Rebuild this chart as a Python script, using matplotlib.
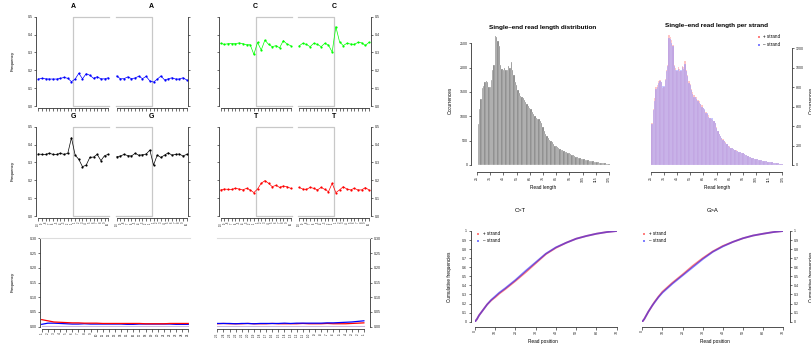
import numpy as np
import matplotlib
matplotlib.use('Agg')
import matplotlib.pyplot as plt

plt.rcParams['font.family'] = ['Liberation Sans', 'DejaVu Sans']

## base composition around read ends (index 1..20 = -10..-1, 1..10)
left_lab = [str(i) for i in range(-10, 0)] + [str(i) for i in range(1, 11)]
right_lab = left_lab

A_5p = [0.151,0.155,0.152,0.151,0.151,0.151,0.155,0.160,0.155,0.136, 0.151,0.183,0.152,0.181,0.172,0.155,0.164,0.152,0.152,0.158]
A_3p = [0.168,0.152,0.153,0.163,0.153,0.157,0.167,0.153,0.166,0.140, 0.134,0.150,0.168,0.146,0.152,0.158,0.151,0.151,0.158,0.146]
C_5p = [0.351,0.345,0.349,0.349,0.349,0.353,0.349,0.343,0.343,0.289, 0.356,0.313,0.369,0.345,0.332,0.338,0.326,0.366,0.347,0.338]
C_3p = [0.336,0.351,0.345,0.332,0.351,0.345,0.332,0.351,0.341,0.302, 0.444,0.360,0.338,0.351,0.347,0.345,0.356,0.354,0.339,0.356]
G_5p = [0.347,0.345,0.345,0.351,0.345,0.345,0.351,0.345,0.351,0.438, 0.341,0.317,0.276,0.285,0.328,0.330,0.345,0.310,0.338,0.345]
G_3p = [0.332,0.336,0.345,0.338,0.336,0.351,0.340,0.343,0.347,0.369, 0.285,0.341,0.328,0.341,0.354,0.341,0.345,0.347,0.336,0.345]
T_5p = [0.146,0.151,0.149,0.149,0.155,0.151,0.146,0.155,0.146,0.131, 0.151,0.183,0.198,0.183,0.164,0.172,0.160,0.168,0.164,0.155]
T_3p = [0.160,0.151,0.149,0.160,0.155,0.146,0.160,0.149,0.136,0.183, 0.131,0.146,0.164,0.151,0.146,0.155,0.146,0.146,0.159,0.146]

## misincorporation frequencies
pos5 = list(range(1, 26))
pos3 = list(range(-25, 0))
CT_5p = [0.024,0.020,0.016,0.015,0.014,0.013,0.013,0.012,0.012,0.012,0.011,0.011,0.011,0.011,0.011,0.011,0.011,0.010,0.010,0.010,0.010,0.011,0.011,0.011,0.011]
GA_5p = [0.008,0.012,0.012,0.011,0.010,0.009,0.009,0.010,0.009,0.009,0.009,0.009,0.009,0.009,0.008,0.008,0.009,0.009,0.009,0.009,0.009,0.009,0.008,0.008,0.008]
oth_5p = [0.004,0.004,0.004,0.004,0.004,0.004,0.004,0.004,0.004,0.004,0.004,0.004,0.004,0.004,0.004,0.004,0.004,0.004,0.004,0.004,0.004,0.004,0.004,0.004,0.004]
CT_3p = [0.010,0.011,0.010,0.010,0.010,0.011,0.010,0.010,0.010,0.011,0.010,0.010,0.010,0.010,0.011,0.010,0.010,0.010,0.011,0.010,0.010,0.010,0.011,0.012,0.013]
GA_3p = [0.011,0.011,0.011,0.010,0.011,0.011,0.010,0.011,0.011,0.011,0.011,0.012,0.011,0.012,0.012,0.012,0.012,0.012,0.013,0.013,0.014,0.015,0.016,0.018,0.020]
oth_3p = [0.004,0.004,0.004,0.004,0.004,0.004,0.004,0.004,0.004,0.004,0.004,0.004,0.004,0.004,0.004,0.004,0.004,0.004,0.004,0.004,0.004,0.004,0.004,0.004,0.004]

## read lengths
lengths = list(range(26, 126))
plus = [430,580,690,800,820,860,870,850,790,800,880,980,1030,1340,1320,1290,1230,1030,1000,970,
        1010,990,970,1020,1010,1070,980,930,860,830,780,750,720,700,700,670,660,630,620,590,
        570,550,520,510,480,470,460,450,430,390,350,320,300,280,265,245,240,220,200,195,
        180,170,160,150,155,145,135,130,125,120,110,105,100,90,85,80,75,70,65,60,
        58,55,50,48,45,43,40,38,35,33,30,28,25,23,20,19,18,15,14,13]
minus = [420,570,660,780,800,840,860,850,810,810,870,970,1020,1310,1300,1260,1220,1020,980,980,
         990,970,980,1010,990,1040,970,920,840,820,770,730,700,700,680,660,640,630,600,590,
         580,530,530,490,480,480,480,450,430,380,350,320,300,280,255,245,230,220,200,185,
         180,170,160,150,145,145,135,130,125,120,110,105,100,90,85,80,75,70,65,60,
         57,55,50,47,45,42,40,37,35,32,30,27,25,22,20,19,17,15,14,12]
total = np.array(plus) + np.array(minus)
len_ticks = list(range(25, 126, 10))

## cumulative substitution frequencies
cum_pos = [0,1,2,3,4,5,6,8,10,12,15,20,25,30,35,40,45,50,55,60,65,70]
CT_plus = [0,0.03,0.07,0.10,0.13,0.16,0.19,0.235,0.27,0.31,0.36,0.45,0.545,0.645,0.745,0.815,0.87,0.915,0.945,0.97,0.988,1.0]
CT_minus = [0,0.03,0.07,0.10,0.13,0.16,0.19,0.24,0.28,0.32,0.37,0.46,0.56,0.655,0.75,0.82,0.87,0.915,0.945,0.97,0.988,1.0]
GA_plus = [0,0.03,0.07,0.11,0.145,0.18,0.215,0.275,0.33,0.37,0.43,0.52,0.615,0.70,0.775,0.835,0.88,0.92,0.95,0.97,0.988,1.0]
GA_minus = [0,0.03,0.07,0.11,0.145,0.18,0.21,0.27,0.32,0.36,0.42,0.51,0.60,0.69,0.77,0.83,0.88,0.92,0.95,0.97,0.988,1.0]
cum_ticks = [0,10,20,30,40,50,60,70]

W, H = 812, 345
fig = plt.figure(figsize=(W/100, H/100), dpi=100)

AXC = '#333333'

def box(x0, top, w, h):
    # pixel box, measured from the top
    ax = fig.add_axes([x0/W, (H-top-h)/H, w/W, h/H])
    for s in ax.spines.values():
        s.set_visible(False)
    ax.set_xticks([])
    ax.set_yticks([])
    ax.patch.set_alpha(0)
    return ax

def yaxis(ax, side, ticks, labels, off=0, fs=2.6):
    sp = ax.spines[side]
    sp.set_visible(True)
    sp.set_bounds(ticks[0], ticks[-1])
    sp.set_position(('outward', off))
    sp.set_linewidth(0.6)
    sp.set_color(AXC)
    if side == 'right':
        ax.yaxis.tick_right()
    ax.set_yticks(ticks)
    ax.set_yticklabels(labels if labels else ['']*len(ticks))
    ax.tick_params(axis='y', length=1.6, width=0.5, labelsize=fs, pad=1, color=AXC, labelcolor='#222222')

def xaxis(ax, ticks, labels, off=0, fs=2.2, rot=90):
    sp = ax.spines['bottom']
    sp.set_visible(True)
    sp.set_bounds(ticks[0], ticks[-1])
    sp.set_position(('outward', off))
    sp.set_linewidth(0.6)
    sp.set_color(AXC)
    ax.set_xticks(ticks)
    ax.set_xticklabels(labels if labels else ['']*len(ticks), rotation=rot)
    ax.tick_params(axis='x', length=1.8, width=0.5, labelsize=fs, pad=1, color=AXC, labelcolor='#222222')

idx = list(range(1, 21))
freq_ticks = [0, 0.1, 0.2, 0.3, 0.4, 0.5]
freq_lab = ['0.0', '0.1', '0.2', '0.3', '0.4', '0.5']

def base_half(x0, top, vals, color, five, ylab, xlab, title):
    ax = box(x0, top, 73.6, 89.3)
    ax.set_xlim(0.5, 20.5)
    ax.set_ylim(0, 0.5)
    # grey frame around the positions inside the read
    if five:
        ax.plot([20.3, 10.5, 10.5, 20.3], [0.5, 0.5, 0, 0], color='#c8c8c8', lw=0.9, clip_on=False)
        yaxis(ax, 'left', freq_ticks, freq_lab if ylab else None)
    else:
        ax.plot([0.7, 10.5, 10.5, 0.7], [0.5, 0.5, 0, 0], color='#c8c8c8', lw=0.9, clip_on=False)
        yaxis(ax, 'right', freq_ticks, freq_lab if ylab else None)
    ax.plot(idx, vals, color=color, lw=0.5, marker='o', ms=1.6, mec=color, mew=0, clip_on=False)
    xaxis(ax, idx, left_lab if xlab else None, off=1.5, fs=1.9)
    ax.text(10.5, 0.535, title, ha='center', va='bottom', fontsize=5, fontweight='bold')
    return ax

# row 1: A, C
base_half(36.5, 16.7, A_5p, '#0000ff', True, True, False, 'A')
base_half(114.9, 16.7, A_3p, '#0000ff', False, False, False, 'A')
base_half(218.9, 16.7, C_5p, '#00ff00', True, False, False, 'C')
base_half(297.2, 16.7, C_3p, '#00ff00', False, True, False, 'C')
# row 2: G, T
base_half(36.5, 126.7, G_5p, '#000000', True, True, True, 'G')
base_half(114.9, 126.7, G_3p, '#000000', False, False, True, 'G')
base_half(218.9, 126.7, T_5p, '#ff0000', True, False, True, 'T')
base_half(297.2, 126.7, T_3p, '#ff0000', False, True, True, 'T')

# row 3: misincorporations
mis_ticks = [0, 0.05, 0.10, 0.15, 0.20, 0.25, 0.30]
mis_lab = ['0.00', '0.05', '0.10', '0.15', '0.20', '0.25', '0.30']

ax = box(40, 238.3, 150, 88.4)
ax.set_xlim(0.72, 25.28)
ax.set_ylim(0, 0.30)
ax.spines['top'].set_visible(True)
ax.spines['top'].set_color('#dddddd')
ax.spines['top'].set_linewidth(0.8)
ax.plot(pos5, oth_5p, color='#c9b8e0', lw=0.8)
ax.plot(pos5, GA_5p, color='#0000ff', lw=0.9)
ax.plot(pos5, CT_5p, color='#ff0000', lw=0.9)
yaxis(ax, 'left', mis_ticks, mis_lab)
xaxis(ax, pos5, [str(p) for p in pos5], off=1.5, fs=2.2)

ax = box(216.7, 238.3, 153.3, 88.4)
ax.set_xlim(-25.1, 0.0)
ax.set_ylim(0, 0.30)
ax.spines['top'].set_visible(True)
ax.spines['top'].set_color('#dddddd')
ax.spines['top'].set_linewidth(0.8)
ax.plot(pos3, oth_3p, color='#c9b8e0', lw=0.8)
ax.plot(pos3, CT_3p, color='#ff0000', lw=0.9)
ax.plot(pos3, GA_3p, color='#0000ff', lw=0.9)
yaxis(ax, 'right', mis_ticks, mis_lab)
xaxis(ax, pos3, [str(p) for p in pos3], off=1.5, fs=2.2)

# read length histograms
ax = box(477, 33.5, 133.3, 131.5)
ax.set_xlim(25, 126)
ax.set_ylim(0, 2700)
ax.bar(lengths, total, width=1.0, color='#7f7f7f', edgecolor='white', linewidth=0.2)
yaxis(ax, 'left', [0, 500, 1000, 1500, 2000, 2500], ['0', '500', '1000', '1500', '2000', '2500'], off=4, fs=2.6)
xaxis(ax, len_ticks, [str(t) for t in len_ticks], off=5, fs=2.6)

ax = box(650.7, 33.8, 133, 131.2)
ax.set_xlim(25, 126)
ax.set_ylim(0, 1350)
ax.bar(lengths, plus, width=1.0, color='#ff8080', alpha=0.5, edgecolor='white', linewidth=0.15)
ax.bar(lengths, minus, width=1.0, color='#8080ff', alpha=0.5, edgecolor='white', linewidth=0.15)
yaxis(ax, 'right', [0, 200, 400, 600, 800, 1000, 1200], ['0', '200', '400', '600', '800', '1000', '1200'], off=6, fs=2.6)
xaxis(ax, len_ticks, [str(t) for t in len_ticks], off=5, fs=2.6)

# cumulative C>T and G>A
cum_y = [0, 0.1, 0.2, 0.3, 0.4, 0.5, 0.6, 0.7, 0.8, 0.9, 1]
cum_lab = ['0', '0.1', '0.2', '0.3', '0.4', '0.5', '0.6', '0.7', '0.8', '0.9', '1']

ax = box(475, 231, 141.7, 90.7)
ax.set_xlim(0, 70)
ax.set_ylim(0, 1)
ax.plot(cum_pos, CT_plus, color='#ff0000', alpha=0.5, lw=1.3)
ax.plot(cum_pos, CT_minus, color='#0000ff', alpha=0.5, lw=1.3)
yaxis(ax, 'left', cum_y, cum_lab, off=3, fs=2.6)
xaxis(ax, cum_ticks, [str(t) for t in cum_ticks], off=3.5, fs=2.6)

ax = box(642.3, 231, 141, 90.7)
ax.set_xlim(0, 70)
ax.set_ylim(0, 1)
ax.plot(cum_pos, GA_plus, color='#ff0000', alpha=0.5, lw=1.3)
ax.plot(cum_pos, GA_minus, color='#0000ff', alpha=0.5, lw=1.3)
yaxis(ax, 'right', cum_y, cum_lab, off=5, fs=2.6)
xaxis(ax, cum_ticks, [str(t) for t in cum_ticks], off=3.5, fs=2.6)

# texts and legends in pixel coordinates
ov = fig.add_axes([0, 0, 1, 1])
ov.set_xlim(0, W)
ov.set_ylim(H, 0)
ov.axis('off')
ov.patch.set_alpha(0)

for yc in [61, 171, 282]:
    ov.text(13, yc, 'Frequency', rotation=90, ha='center', va='center', fontsize=3.2)

ov.text(543, 27, 'Single\u2013end read length distribution', ha='center', va='center', fontsize=4.6, fontweight='bold')
ov.text(717, 25, 'Single\u2013end read length per strand', ha='center', va='center', fontsize=4.6, fontweight='bold')
ov.text(450, 100, 'Occurrences', rotation=90, ha='center', va='center', fontsize=3.4)
ov.text(809, 100, 'Occurrences', rotation=90, ha='left', va='center', fontsize=3.4)
ov.text(543, 188, 'Read length', ha='center', va='center', fontsize=3.4)
ov.text(717, 188, 'Read length', ha='center', va='center', fontsize=3.4)

ov.text(520, 210, 'C>T', ha='center', va='center', fontsize=4.2)
ov.text(713, 210, 'G>A', ha='center', va='center', fontsize=4.2)
ov.text(450, 277, 'Cumulative frequencies', rotation=90, ha='center', va='center', fontsize=3.4)
ov.text(809, 277, 'Cumulative frequencies', rotation=90, ha='left', va='center', fontsize=3.4)
ov.text(543, 342, 'Read position', ha='center', va='center', fontsize=3.4)
ov.text(715, 342, 'Read position', ha='center', va='center', fontsize=3.4)

legend_spots = [(759, 37), (478.5, 233.5), (644.5, 233.5)]
for lx, ly in legend_spots:
    ov.scatter([lx], [ly], marker='s', s=4, color='#ff8080', linewidths=0)
    ov.scatter([lx], [ly + 7.5], marker='s', s=4, color='#8080ff', linewidths=0)
    ov.text(lx + 4.5, ly, '+ strand', ha='left', va='center', fontsize=3.3)
    ov.text(lx + 4.5, ly + 7.5, '\u2013 strand', ha='left', va='center', fontsize=3.3)

fig.savefig('out.png', dpi=100)
